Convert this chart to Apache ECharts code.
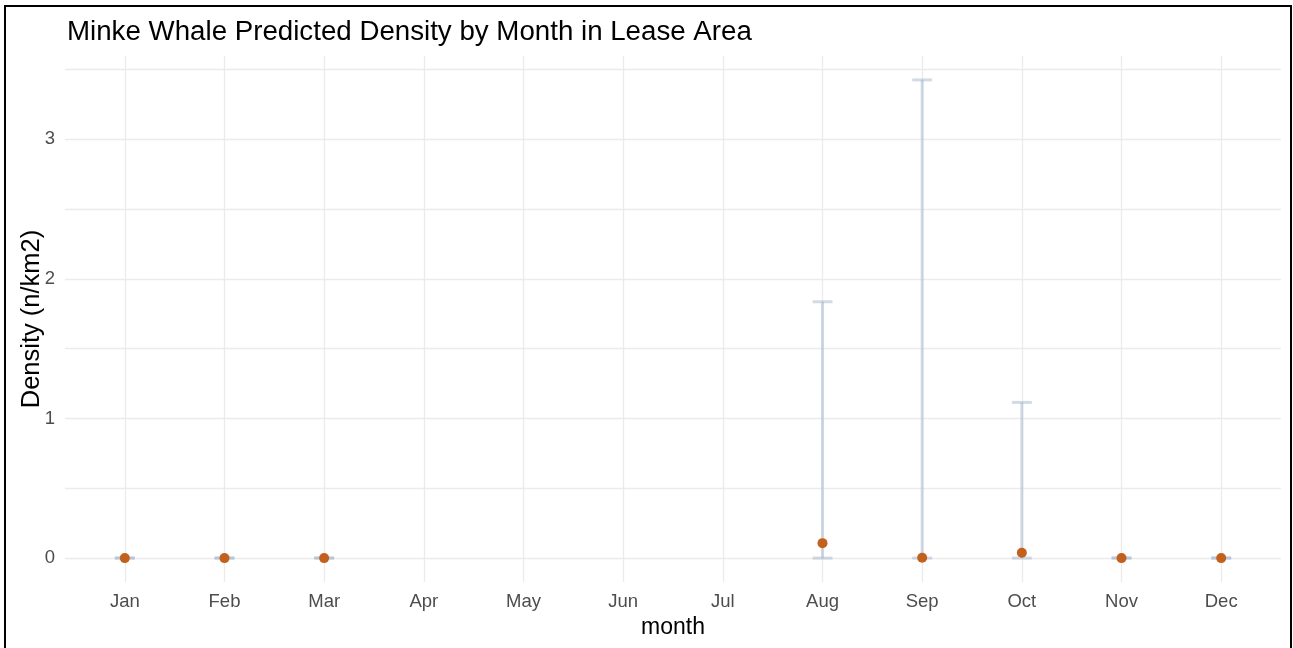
<!DOCTYPE html>
<html>
<head>
<meta charset="utf-8">
<style>
  html, body { margin: 0; padding: 0; background: #fff; }
  #chart { width: 1293px; height: 648px; }
</style>
<script src="https://cdn.jsdelivr.net/npm/echarts@6/dist/echarts.min.js"></script>
</head>
<body>
<div id="chart"></div>
<script>
// Monthly predicted density (animals per km²) with confidence limits.
const months = ['Jan', 'Feb', 'Mar', 'Apr', 'May', 'Jun', 'Jul', 'Aug', 'Sep', 'Oct', 'Nov', 'Dec'];
const density = [0, 0, 0, null, null, null, null, 0.107, 0.002, 0.038, 0, 0];
const lower   = [0, 0, 0, null, null, null, null, 0, 0, 0, 0, 0];
const upper   = [0.001, 0.001, 0.001, null, null, null, null, 1.836, 3.425, 1.115, 0.001, 0.001];
const yTickLabels = [0, 1, 2, 3];
const yGridValues = [0, 0.5, 1, 1.5, 2, 2.5, 3, 3.5];

const FONT = '"Liberation Sans", Arial, sans-serif';

// ggplot-style 5% expansion of the value range
const dataMax = Math.max(...upper.filter(v => v != null));
const dataMin = 0;
const pad = (dataMax - dataMin) * 0.05;

const errorData = [];
const pointData = [];
months.forEach((m, i) => {
  if (density[i] != null) {
    errorData.push([i, lower[i], upper[i]]);
    pointData.push([i, density[i]]);
  }
});

const chart = echarts.init(document.getElementById('chart'), null, { renderer: 'canvas' });

chart.setOption({
  backgroundColor: '#ffffff',
  animation: false,
  title: {
    text: 'Minke Whale Predicted Density by Month in Lease Area',
    left: 67,
    top: 18,
    padding: 0,
    textStyle: { fontFamily: FONT, fontSize: 27.7, fontWeight: 'normal', color: '#000000' }
  },
  graphic: [{
    type: 'rect',
    shape: { x: 5, y: 6, width: 1286, height: 650 },
    style: { fill: 'none', stroke: '#000000', lineWidth: 2 },
    silent: true,
    z: 100
  }],
  grid: { left: 65, right: 12, top: 56, bottom: 66 },
  xAxis: {
    type: 'value',
    min: -0.6,
    max: months.length - 1 + 0.6,
    name: 'month',
    nameLocation: 'middle',
    nameGap: 34,
    nameMoveOverlap: false,
    nameTextStyle: { fontFamily: FONT, fontSize: 23, color: '#000000' },
    axisLine: { show: false },
    axisTick: { show: false, customValues: months.map((_, i) => i) },
    axisLabel: {
      customValues: months.map((_, i) => i),
      formatter: v => months[Math.round(v)],
      fontFamily: FONT, fontSize: 18.5, color: '#4d4d4d', margin: 10
    },
    splitLine: { show: true, lineStyle: { color: '#ebebeb', width: 1.3 } }
  },
  yAxis: {
    type: 'value',
    min: dataMin - pad,
    max: dataMax + pad,
    name: 'Density (n/km2)',
    nameLocation: 'middle',
    nameRotate: 90,
    nameGap: 20,
    nameMoveOverlap: false,
    nameTextStyle: { fontFamily: FONT, fontSize: 25.5, color: '#000000' },
    axisLine: { show: false },
    axisTick: { show: false, customValues: yGridValues },
    axisLabel: {
      customValues: yTickLabels,
      fontFamily: FONT, fontSize: 18.5, color: '#4d4d4d', margin: 10
    },
    splitLine: { show: true, lineStyle: { color: '#ebebeb', width: 1.3 } }
  },
  series: [
    {
      type: 'custom',
      name: 'interval',
      data: errorData,
      encode: { x: 0, y: [1, 2] },
      z: 2,
      renderItem: function (params, api) {
        const x = api.value(0);
        const lo = api.coord([x, api.value(1)]);
        const hi = api.coord([x, api.value(2)]);
        const half = api.size([1, 0])[0] * 0.1;
        const style = { stroke: 'rgba(160,180,200,0.48)', lineWidth: 3 };
        return {
          type: 'group',
          children: [
            { type: 'line', shape: { x1: lo[0], y1: lo[1], x2: hi[0], y2: hi[1] }, style: style },
            { type: 'line', shape: { x1: hi[0] - half, y1: hi[1], x2: hi[0] + half, y2: hi[1] }, style: style },
            { type: 'line', shape: { x1: lo[0] - half, y1: lo[1], x2: lo[0] + half, y2: lo[1] }, style: style }
          ]
        };
      }
    },
    {
      type: 'scatter',
      name: 'density',
      data: pointData,
      symbol: 'circle',
      symbolSize: 10,
      z: 3,
      itemStyle: { color: '#c2611e', opacity: 1 }
    }
  ]
});
</script>
</body>
</html>
